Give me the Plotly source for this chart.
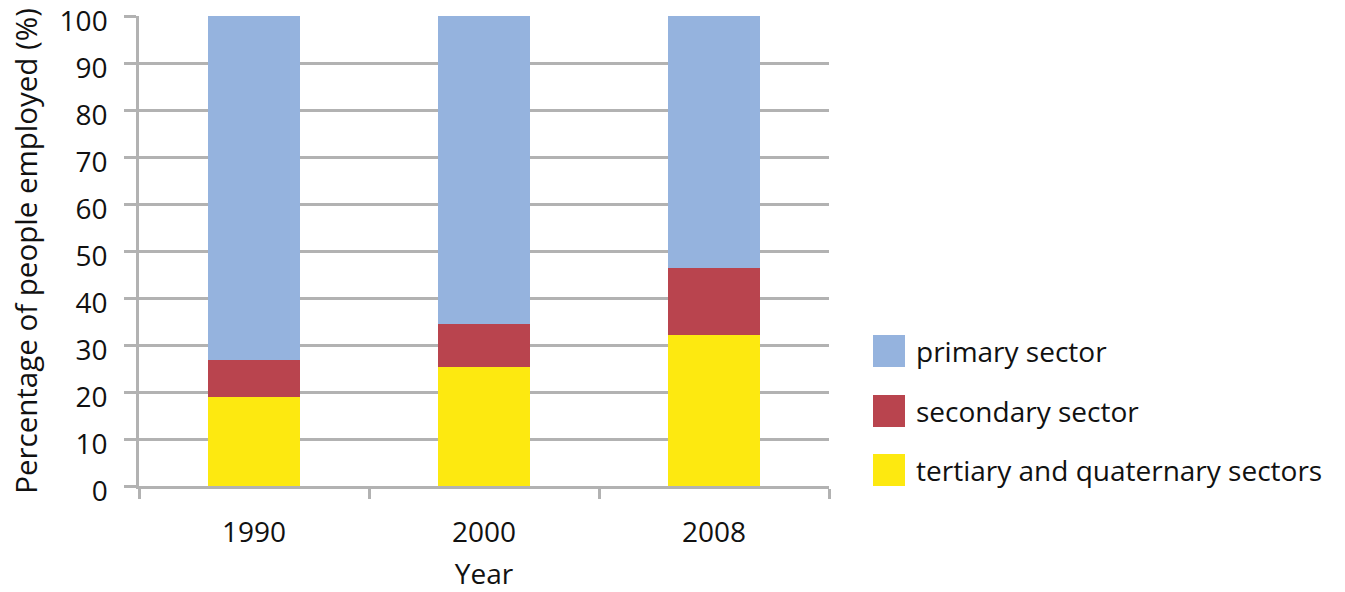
import plotly.graph_objects as go

years = ["1990", "2000", "2008"]
tertiary = [19.0, 25.3, 32.1]
secondary = [7.8, 9.2, 14.3]
primary = [73.2, 65.5, 53.6]
y_ticks = [0, 10, 20, 30, 40, 50, 60, 70, 80, 90, 100]

series_names = ["primary sector", "secondary sector", "tertiary and quaternary sectors"]
series_colors = ["#95B3DE", "#B9444E", "#FDE910"]

FONT = "Open Sans"
FS = 28
GRID = "#B2B2B2"

fig = go.Figure()
# stacking order bottom to top: tertiary, secondary, primary
for name, vals, col in [
    (series_names[2], tertiary, series_colors[2]),
    (series_names[1], secondary, series_colors[1]),
    (series_names[0], primary, series_colors[0]),
]:
    fig.add_trace(go.Bar(x=years, y=vals, name=name, marker=dict(color=col, line=dict(width=0)),
                         showlegend=False))

# manual legend with big square swatches
legend_y = [351, 411, 470]
for name, col, yc in zip(series_names, series_colors, legend_y):
    fig.add_shape(type="rect", xref="paper", yref="paper",
                  x0=(873 - 139) / 690, x1=(905 - 139) / 690,
                  y0=(486 - (yc + 16)) / 470, y1=(486 - (yc - 16)) / 470,
                  fillcolor=col, line=dict(width=0))
    fig.add_annotation(xref="paper", yref="paper", x=(914 - 139) / 690, y=(486 - yc) / 470,
                       text=name, showarrow=False, xanchor="left", yanchor="middle",
                       font=dict(family=FONT, size=FS, color="#111111"))

fig.update_layout(
    barmode="stack",
    bargap=0.6,
    width=1345, height=592,
    margin=dict(l=139, r=516, t=16, b=106),
    plot_bgcolor="white", paper_bgcolor="white",
    font=dict(family=FONT, size=FS, color="#111111"),
    xaxis=dict(
        type="category", range=[-0.5, 2.5], automargin=False,
        showline=True, linecolor=GRID, linewidth=2.5,
        ticks="outside", tickson="boundaries", ticklen=10, tickcolor=GRID, tickwidth=2.5,
        showgrid=False,
        title=dict(text="Year", font=dict(family=FONT, size=FS), standoff=19),
        ticklabelstandoff=20,
    ),
    yaxis=dict(
        range=[0, 100.05], tickmode="array", tickvals=y_ticks,
        ticktext=[str(v) for v in y_ticks], automargin=False,
        ticklabeloverflow="allow", ticklabelshift=5,
        showline=True, linecolor=GRID, linewidth=2.5,
        ticks="outside", ticklen=12, tickcolor=GRID, tickwidth=2.5,
        showgrid=True, gridcolor=GRID, gridwidth=2.5,
        zeroline=False,
        title=dict(text="Percentage of people employed (%)", font=dict(family=FONT, size=29.5), standoff=14),
        ticklabelstandoff=11,
    ),
)

fig.write_html("out.html")
